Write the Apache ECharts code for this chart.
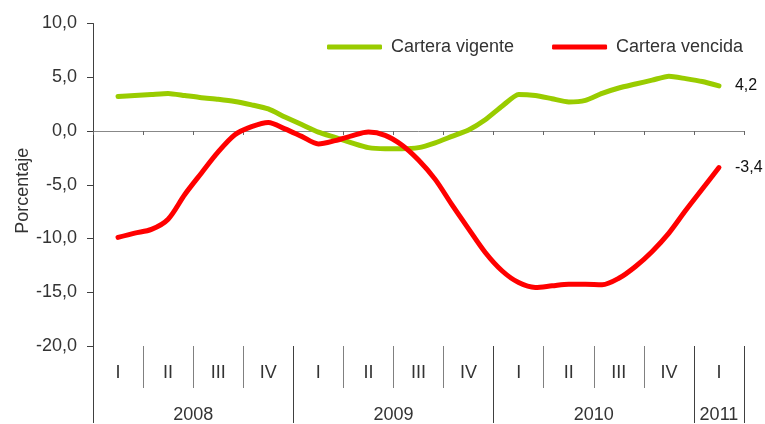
<!DOCTYPE html>
<html>
<head>
<meta charset="utf-8">
<script src="https://cdn.jsdelivr.net/npm/echarts@6/dist/echarts.min.js"></script>
<style>
  html, body { margin: 0; padding: 0; background: #fff; }
  #chart { width: 765px; height: 424px; }
</style>
</head>
<body>
<div id="chart"></div>
<script>
// meses ene-2008 .. mar-2011 (ene-08 y mar-11 sin dato)
const months = [
  'ene-08','feb-08','mar-08','abr-08','may-08','jun-08','jul-08','ago-08','sep-08','oct-08','nov-08','dic-08',
  'ene-09','feb-09','mar-09','abr-09','may-09','jun-09','jul-09','ago-09','sep-09','oct-09','nov-09','dic-09',
  'ene-10','feb-10','mar-10','abr-10','may-10','jun-10','jul-10','ago-10','sep-10','oct-10','nov-10','dic-10',
  'ene-11','feb-11','mar-11'
]
const vigente = [null,
  3.2, 3.3, 3.4, 3.5, 3.3, 3.1, 2.95, 2.75, 2.43, 2.05, 1.3, 0.6,
  -0.1, -0.6, -1.1, -1.55, -1.65, -1.65, -1.55, -1.1, -0.5, 0.1, 1.05, 2.3,
  3.4, 3.3, 3.0, 2.7, 2.85, 3.5, 4.0, 4.37, 4.73, 5.1, 4.87, 4.6, 4.2,
  null]
const vencida = [null,
  -9.9, -9.5, -9.15, -8.2, -5.9, -3.9, -1.95, -0.35, 0.4, 0.8, 0.2, -0.5,
  -1.2, -0.9, -0.45, -0.1, -0.4, -1.3, -2.7, -4.5, -6.85, -9.1, -11.3, -13.0,
  -14.1, -14.55, -14.4, -14.25, -14.25, -14.3, -13.7, -12.6, -11.2, -9.5, -7.4, -5.4, -3.4,
  null]
const quarters = ['I','II','III','IV','I','II','III','IV','I','II','III','IV','I']
const years = ['2008', '2009', '2010', '2011']
const yearLabelPos = [2, 6, 10, 12.5]   // centro de cada año, en trimestres
const yearBounds = [0, 4, 8, 12, 13]
const yTicks = [-20, -15, -10, -5, 0, 5, 10]

const fmt = v => v.toFixed(1).replace('.', ',')
const font = 'Liberation Sans, Arial, sans-serif'

var myChart = echarts.init(document.getElementById('chart'))
var option = {
  animation: false,
  textStyle: { fontFamily: font },
  grid: { left: 93, right: 21, top: 23.5, bottom: 77, containLabel: false },
  legend: {
    data: ['Cartera vigente', 'Cartera vencida'],
    left: 322,
    top: 33,
    icon: 'roundRect',
    itemWidth: 55,
    itemHeight: 5,
    itemGap: 38,
    textStyle: { color: '#333', fontSize: 18, fontFamily: font, padding: [0, 0, 0, 4] },
  },
  xAxis: [
    {
      type: 'category',
      data: months,
      boundaryGap: true,
      axisLine: { onZero: true, lineStyle: { color: '#888', width: 1 } },
      axisTick: {
        show: true,
        length: 4,
        interval: function (index) { return index % 3 === 0 },
        lineStyle: { color: '#666' },
      },
      axisLabel: { show: false },
      splitLine: { show: false },
    },
    {
      type: 'category',
      data: quarters,
      position: 'bottom',
      boundaryGap: true,
      axisLine: { show: false, onZero: false },
      axisTick: { show: true, length: 42, interval: 0, lineStyle: { color: '#808080' } },
      axisLabel: { interval: 0, color: '#333', fontSize: 18, margin: 18 },
      splitLine: { show: false },
    },
    {
      type: 'value',
      min: 0,
      max: 13,
      position: 'bottom',
      axisLine: { show: false, onZero: false },
      axisTick: { show: true, length: 77, customValues: yearBounds, lineStyle: { color: '#404040' } },
      axisLabel: {
        customValues: yearLabelPos,
        color: '#333',
        fontSize: 18,
        margin: 60,
        formatter: function (v) { return years[yearLabelPos.indexOf(v)] },
      },
      splitLine: { show: false },
    },
  ],
  yAxis: {
    type: 'value',
    min: yTicks[0],
    max: yTicks[yTicks.length - 1],
    interval: 5,
    name: 'Porcentaje',
    nameLocation: 'middle',
    nameRotate: 90,
    nameGap: 61,
    nameMoveOverlap: false,
    nameTextStyle: { color: '#333', fontSize: 18, padding: [0, 12, 0, 0] },
    axisLine: { show: true, lineStyle: { color: '#404040' } },
    axisTick: { show: true, length: 6, lineStyle: { color: '#404040' } },
    axisLabel: { color: '#333', fontSize: 18, margin: 16, formatter: fmt },
    splitLine: { show: false },
  },
  series: [
    {
      name: 'Cartera vigente',
      type: 'line',
      xAxisIndex: 0,
      data: vigente,
      showSymbol: false,
      symbol: 'none',
      smooth: 0.2,
      lineStyle: { color: '#99CC00', width: 5, cap: 'round', join: 'round' },
      itemStyle: { color: '#99CC00' },
      endLabel: { show: true, distance: 16, color: '#111', fontSize: 16, formatter: p => fmt(p.value) },
    },
    {
      name: 'Cartera vencida',
      type: 'line',
      xAxisIndex: 0,
      data: vencida,
      showSymbol: false,
      symbol: 'none',
      smooth: 0.3,
      lineStyle: { color: '#FF0000', width: 5, cap: 'round', join: 'round' },
      itemStyle: { color: '#FF0000' },
      endLabel: { show: true, distance: 16, color: '#111', fontSize: 16, formatter: p => fmt(p.value) },
    },
  ],
}
myChart.setOption(option)
</script>
</body>
</html>
